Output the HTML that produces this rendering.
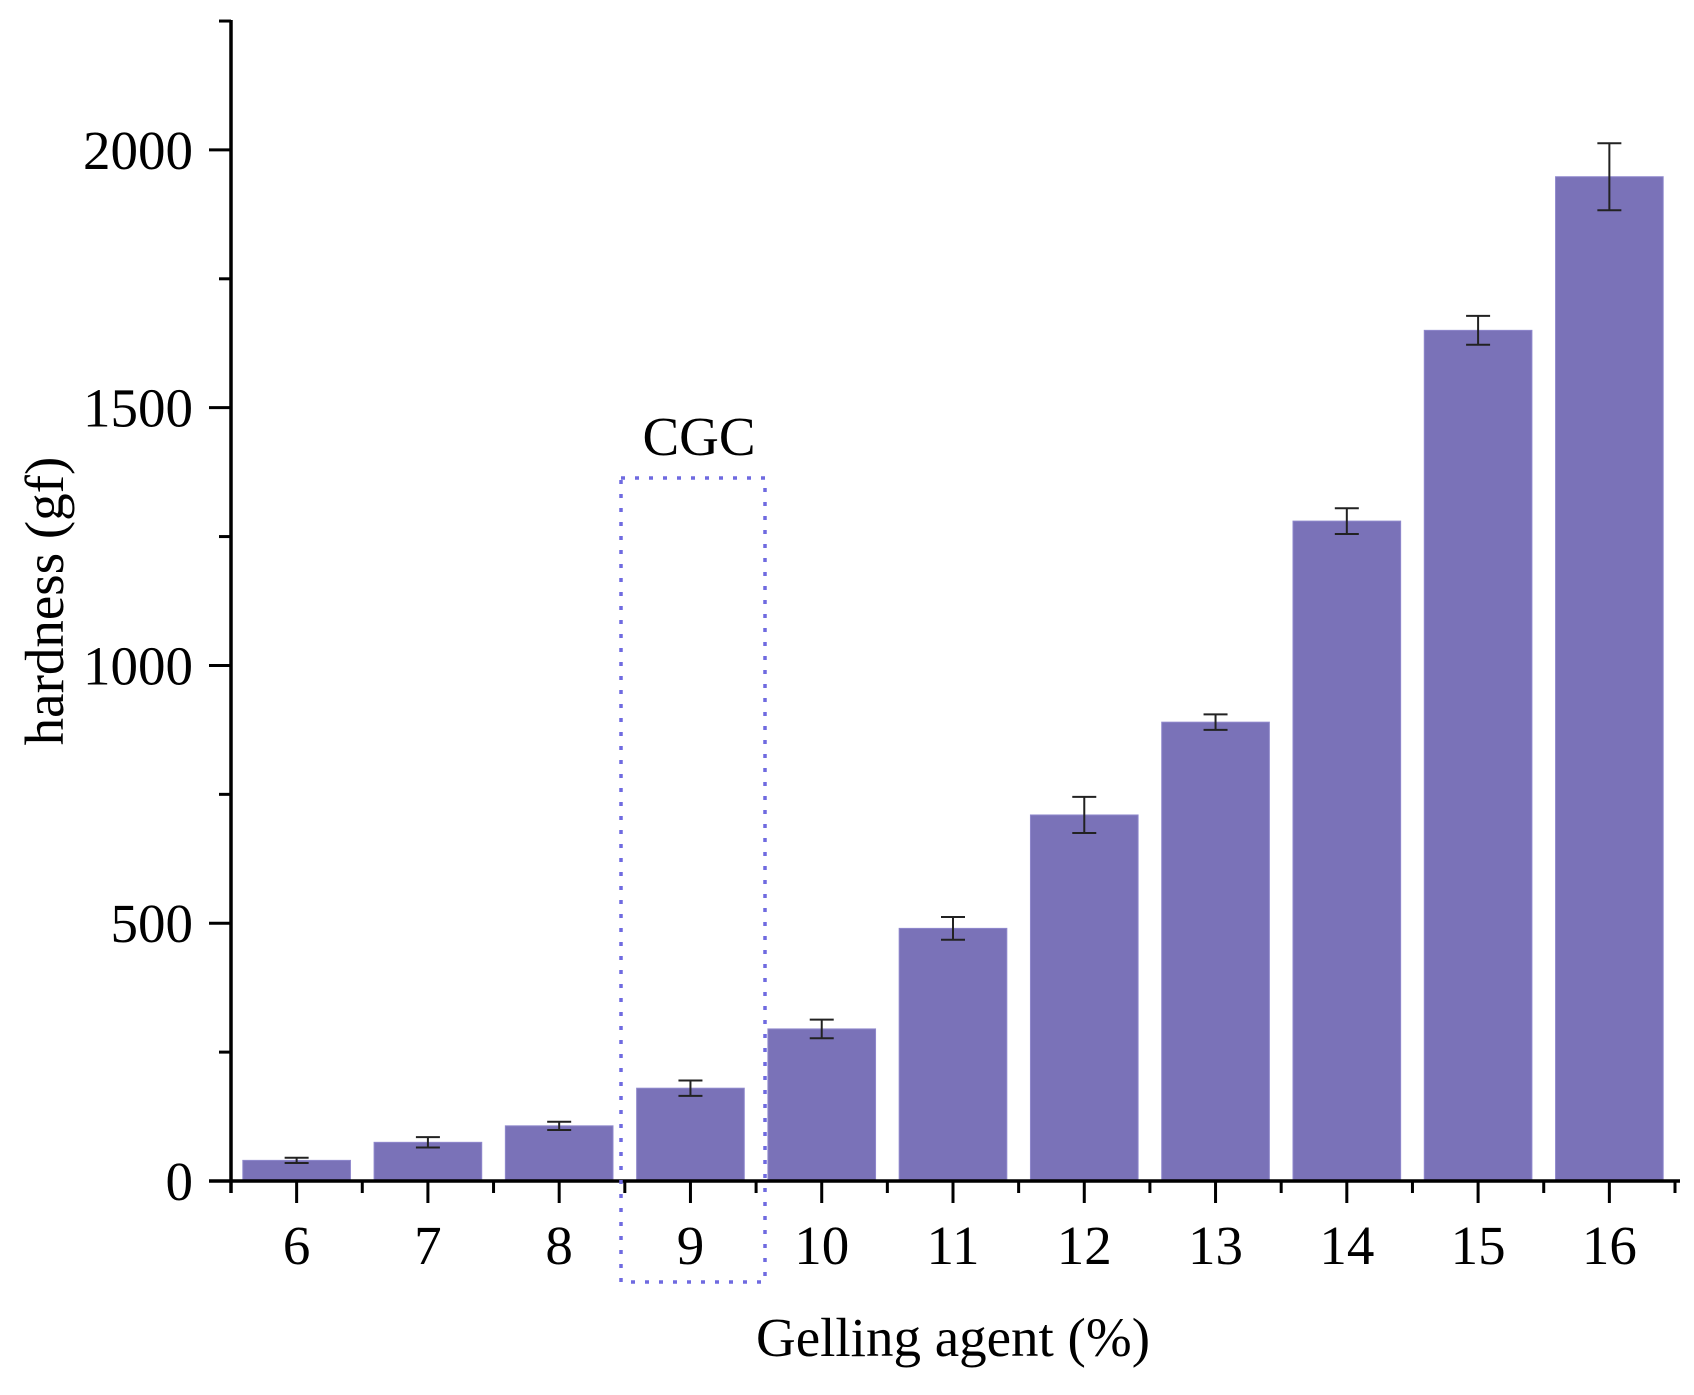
<!DOCTYPE html>
<html><head><meta charset="utf-8"><style>
html,body{margin:0;padding:0;background:#fff;}
svg text{font-family:"Liberation Serif",serif;fill:#000;}
</style></head><body>
<svg id="chart" width="1694" height="1390" viewBox="0 0 1694 1390" xmlns="http://www.w3.org/2000/svg">
<g id="bars"></g>
<g id="errs"></g>
<g id="axes"></g>
<rect x="621" y="478" width="144" height="804" fill="none" stroke="#6f6ae0" stroke-width="3.5" stroke-dasharray="4,10"/>
<text x="699" y="455" font-size="55" text-anchor="middle">CGC</text>
<text x="953" y="1356" font-size="55" text-anchor="middle">Gelling agent (%)</text>
<text transform="translate(63,601) rotate(-90)" font-size="55" text-anchor="middle">hardness (gf)</text>
</svg>
<script>
const categories = [6,7,8,9,10,11,12,13,14,15,16];
const values = [40,75,107,180,295,490,710,890,1280,1650,1948];
const errors = [5,10,8,15,18,22,35,15,25,28,65];
const yTicks = [0,500,1000,1500,2000];
const yMinor = [250,750,1250,1750,2250];

const NS = "http://www.w3.org/2000/svg";
const X0 = 231, X1 = 1675, XMIN = 5.5, XMAX = 16.5;
const Y0 = 1181, Y1 = 20, YMIN = 0, YMAX = 2252;
const xs = v => X0 + (v - XMIN) / (XMAX - XMIN) * (X1 - X0);
const ys = v => Y0 - (v - YMIN) / (YMAX - YMIN) * (Y0 - Y1);
const step = xs(1) - xs(0);
const bw = step * 0.82;

function mk(tag, attrs, parent){
  const e = document.createElementNS(NS, tag);
  for (const k in attrs) e.setAttribute(k, attrs[k]);
  parent.appendChild(e);
  return e;
}
const gb = document.getElementById('bars');
const ge = document.getElementById('errs');
const ga = document.getElementById('axes');

categories.forEach((c, i) => {
  const cx = xs(c);
  const r = mk('rect', {x: cx - bw/2, y: ys(values[i]), width: bw, height: Y0 - ys(values[i]), fill: '#7a72b8', stroke: '#8f88cc', 'stroke-width': 1}, gb);
  
  
  const g = mk('g', {stroke: '#222', 'stroke-width': 2}, ge);
  
  
  const top = ys(values[i] + errors[i]), bot = ys(values[i] - errors[i]);
  mk('line', {x1: cx, x2: cx, y1: top, y2: bot}, g);
  mk('line', {x1: cx - 12, x2: cx + 12, y1: top, y2: top}, g);
  mk('line', {x1: cx - 12, x2: cx + 12, y1: bot, y2: bot}, g);
});

let l = mk('line', {x1: X0, x2: X0, y1: Y1, y2: Y0 + 12, stroke: '#000', 'stroke-width': 3.5}, ga);


l = mk('line', {x1: X0 - 22, x2: 1680, y1: Y0, y2: Y0, stroke: '#000', 'stroke-width': 3.5}, ga);



categories.forEach(c => {
  const x = xs(c);
  mk('line', {x1: x, x2: x, y1: Y0, y2: Y0 + 22, stroke: '#000', 'stroke-width': 3}, ga);
  const t = mk('text', {x: x, y: 1264, 'font-size': 55, 'text-anchor': 'middle'}, ga);
  t.textContent = c;
  
  
});
for (let k = 0; k <= categories.length; k++) {
  const x = xs(XMIN + k);
  mk('line', {x1: x, x2: x, y1: Y0, y2: Y0 + 12, stroke: '#000', 'stroke-width': 3}, ga);
}
yTicks.forEach(v => {
  const y = ys(v);
  mk('line', {x1: X0 - 22, x2: X0, y1: y, y2: y, stroke: '#000', 'stroke-width': 3}, ga);
  const t = mk('text', {x: 193, y: y + 19, 'font-size': 55, 'text-anchor': 'end'}, ga);
  t.textContent = v;
  
  
});
yMinor.forEach(v => {
  const y = ys(v);
  mk('line', {x1: X0 - 12, x2: X0, y1: y, y2: y, stroke: '#000', 'stroke-width': 3}, ga);
});
</script>
</body></html>
